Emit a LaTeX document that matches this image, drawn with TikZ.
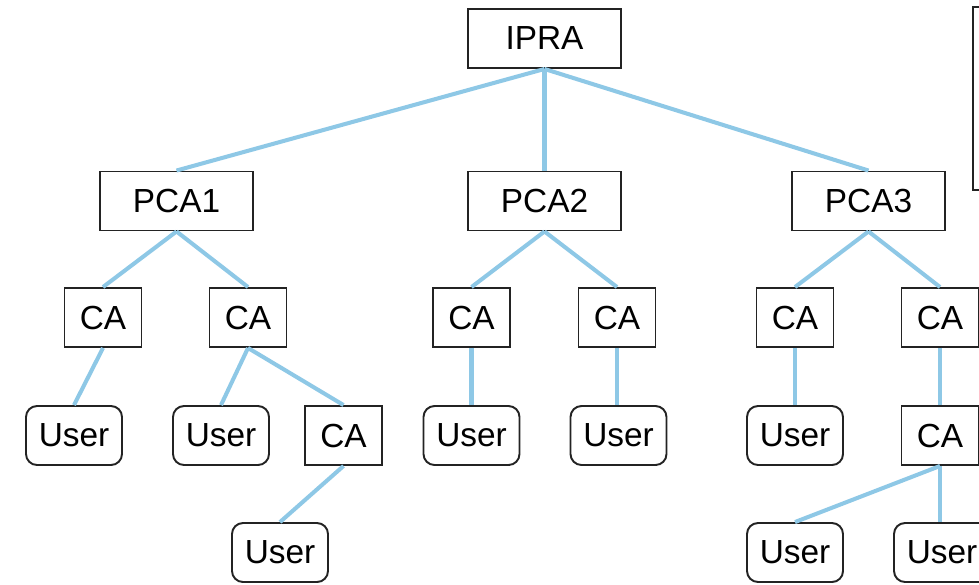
\documentclass[tikz,border=0pt]{standalone}
\usepackage{xcolor}
\usepackage{fontspec}
\setmainfont{Liberation Sans}
\usetikzlibrary{positioning}
\definecolor{linkblue}{RGB}{142,200,230}
\definecolor{boxline}{RGB}{35,35,35}

\begin{document}
\begin{tikzpicture}[
		font=\fontsize{19}{21}\selectfont,
		authority/.style={draw=boxline, line width=1.1pt, minimum width=3.06cm, minimum height=1.18cm, inner sep=0pt},
		ca/.style={draw=boxline, line width=1.1pt, minimum width=1.54cm, minimum height=1.18cm, inner sep=0pt},
		user/.style={draw=boxline, line width=1.1pt, rounded corners=0.22cm, minimum width=1.92cm, minimum height=1.18cm, inner sep=0pt},
		link/.style={draw=linkblue, line width=2.3pt}
	]
				\clip (0,0) rectangle (19.58,-11.68);

				\node[authority] (ipra) at (10.89,-0.77) {IPRA};
				\node[authority] (pca1) at (3.53,-4.02) {PCA1};
				\node[authority] (pca2) at (10.89,-4.02) {PCA2};
				\node[authority] (pca3) at (17.37,-4.02) {PCA3};
				\draw[draw=boxline, line width=1.1pt] (19.46,-0.14) rectangle (20.6,-3.8);

				\node[ca] (ca1) at (2.06,-6.35) {CA};
				\node[ca] (ca2) at (4.96,-6.35) {CA};
				\node[ca] (ca3) at (9.43,-6.35) {CA};
				\node[ca] (ca4) at (12.34,-6.35) {CA};
				\node[ca] (ca5) at (15.9,-6.35) {CA};
				\node[ca] (ca6) at (18.8,-6.35) {CA};

				\node[user] (user1) at (1.48,-8.71) {User};
				\node[user] (user2) at (4.42,-8.71) {User};
				\node[ca] (ca7) at (6.87,-8.71) {CA};
				\node[user] (user3) at (9.43,-8.71) {User};
				\node[user] (user4) at (12.37,-8.71) {User};
				\node[user] (user5) at (15.9,-8.71) {User};
				\node[ca] (ca8) at (18.8,-8.71) {CA};

				\node[user] (user6) at (5.6,-11.05) {User};
				\node[user] (user7) at (15.9,-11.05) {User};
				\node[user] (user8) at (18.84,-11.05) {User};

				% links
				\foreach \a/\b in {ipra/pca1, ipra/pca2, ipra/pca3,
						pca1/ca1, pca1/ca2, pca2/ca3, pca3/ca5, pca3/ca6,
						ca1/user1, ca2/user2, ca2/ca7, ca3/user3, ca5/user5, ca6/ca8,
						ca7/user6, ca8/user7}
					\draw[link] (\a.south) -- (\b.north);
				\draw[link] (pca2.south) -- (ca4.north);
				\draw[link] (ca4.south) -- (ca4.south |- user4.north);
				\draw[link] (ca8.south) -- (ca8.south |- user8.north);
			\end{tikzpicture}
\end{document}
